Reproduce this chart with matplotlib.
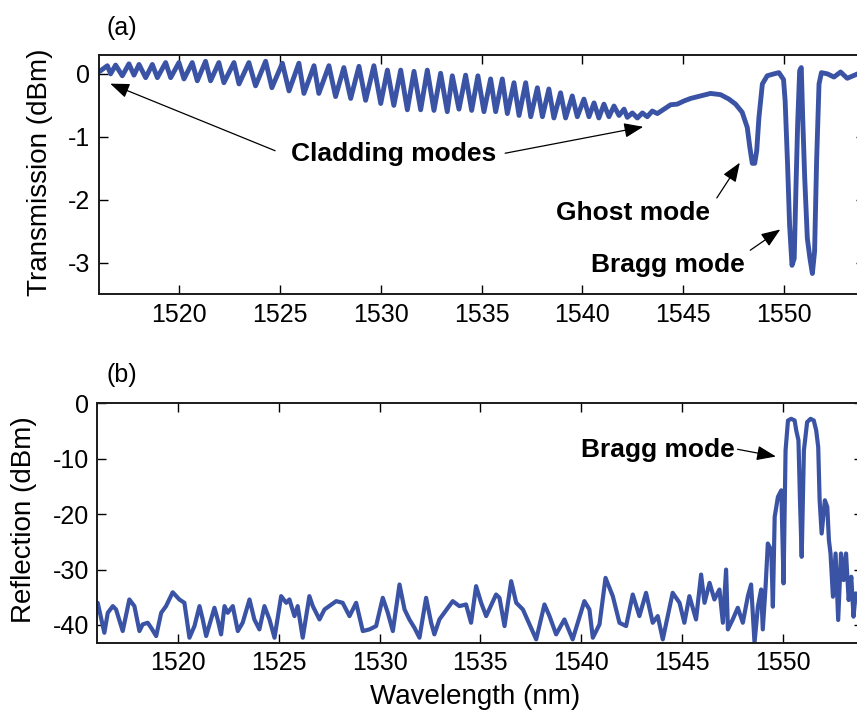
import matplotlib
matplotlib.use("Agg")
import matplotlib.pyplot as plt

plt.rcParams['font.family'] = ['Liberation Sans', 'DejaVu Sans']

# ---------------- data ----------------
trans_wl = [1516.06, 1516.44, 1516.60, 1516.85, 1517.18, 1517.51, 1517.76, 1518.01, 1518.34, 1518.67,
            1518.92, 1519.33, 1519.58, 1519.99, 1520.24, 1520.65, 1520.90, 1521.31, 1521.56, 1521.97,
            1522.22, 1522.72, 1522.97, 1523.46, 1523.79, 1524.29, 1524.60, 1525.12, 1525.45, 1525.94,
            1526.19, 1526.69, 1526.93, 1527.43, 1527.76, 1528.17, 1528.51, 1528.92, 1529.25, 1529.66,
            1530.00, 1530.33, 1530.65, 1530.99, 1531.32, 1531.65, 1531.98, 1532.31, 1532.64, 1532.97,
            1533.30, 1533.55, 1533.88, 1534.21, 1534.51, 1534.82, 1535.12, 1535.45, 1535.70, 1536.03,
            1536.28, 1536.61, 1536.86, 1537.19, 1537.44, 1537.77, 1538.02, 1538.34, 1538.59, 1538.92,
            1539.17, 1539.50, 1539.75, 1540.08, 1540.33, 1540.58, 1540.82, 1541.07, 1541.32, 1541.57,
            1541.82, 1542.07, 1542.23, 1542.48, 1542.73, 1542.98, 1543.22, 1543.47, 1543.72, 1544.05,
            1544.38, 1544.71, 1545.04, 1545.37, 1545.87, 1546.36, 1546.86, 1547.27, 1547.60, 1547.93,
            1548.18, 1548.31, 1548.43, 1548.55, 1548.65, 1548.76, 1548.93, 1549.17, 1549.50, 1549.75,
            1549.98, 1550.06, 1550.18, 1550.28, 1550.40, 1550.51, 1550.60, 1550.68, 1550.78, 1550.86,
            1550.93, 1551.03, 1551.16, 1551.29, 1551.41, 1551.52, 1551.62, 1551.74, 1551.86, 1552.16,
            1552.48, 1552.81, 1553.14, 1553.65]
trans_db = [0.04, 0.13, 0.00, 0.14, -0.03, 0.16, -0.02, 0.15, -0.06, 0.15,
            -0.06, 0.18, -0.06, 0.18, -0.08, 0.18, -0.11, 0.20, -0.11, 0.18,
            -0.14, 0.18, -0.16, 0.18, -0.19, 0.20, -0.22, 0.17, -0.27, 0.17,
            -0.31, 0.13, -0.31, 0.13, -0.36, 0.10, -0.39, 0.12, -0.42, 0.13,
            -0.47, 0.06, -0.50, 0.06, -0.57, 0.04, -0.57, 0.06, -0.58, 0.01,
            -0.60, -0.03, -0.56, -0.02, -0.58, -0.03, -0.60, -0.08, -0.60, -0.08,
            -0.63, -0.14, -0.66, -0.14, -0.68, -0.22, -0.68, -0.24, -0.70, -0.30,
            -0.70, -0.35, -0.68, -0.40, -0.68, -0.46, -0.70, -0.48, -0.68, -0.51,
            -0.66, -0.56, -0.69, -0.62, -0.70, -0.62, -0.68, -0.59, -0.63, -0.56,
            -0.49, -0.48, -0.43, -0.39, -0.35, -0.31, -0.33, -0.40, -0.48, -0.61,
            -0.85, -1.17, -1.42, -1.42, -1.22, -0.69, -0.16, -0.03, 0.00, 0.02,
            -0.09, -0.43, -1.44, -2.40, -3.04, -2.93, -1.76, -0.80, 0.05, 0.10,
            -0.69, -1.65, -2.61, -2.93, -3.17, -2.82, -1.39, -0.16, 0.02, 0.00,
            -0.05, 0.03, -0.07, 0.00]

refl_wl = [1516.02, 1516.35, 1516.52, 1516.77, 1516.93, 1517.26, 1517.59, 1517.84, 1518.09, 1518.25,
           1518.50, 1518.67, 1518.92, 1519.17, 1519.41, 1519.74, 1520.07, 1520.32, 1520.57, 1520.82,
           1521.07, 1521.23, 1521.40, 1521.81, 1521.97, 1522.14, 1522.31, 1522.47, 1522.72, 1522.97,
           1523.21, 1523.55, 1523.79, 1524.04, 1524.29, 1524.54, 1524.79, 1525.12, 1525.37, 1525.53,
           1525.78, 1525.94, 1526.19, 1526.52, 1526.69, 1527.02, 1527.27, 1527.85, 1528.17, 1528.51,
           1528.84, 1529.17, 1529.50, 1529.83, 1530.16, 1530.41, 1530.66, 1530.99, 1531.24, 1531.48,
           1531.73, 1531.98, 1532.31, 1532.56, 1532.72, 1532.97, 1533.63, 1533.96, 1534.29, 1534.54,
           1534.79, 1535.04, 1535.29, 1535.78, 1535.95, 1536.20, 1536.53, 1536.78, 1537.11, 1537.77,
           1538.18, 1538.43, 1538.76, 1539.17, 1539.58, 1540.16, 1540.41, 1540.58, 1540.91, 1541.21,
           1541.57, 1541.90, 1542.23, 1542.56, 1542.89, 1543.22, 1543.55, 1543.80, 1544.05, 1544.54,
           1544.88, 1545.12, 1545.37, 1545.70, 1545.95, 1546.12, 1546.37, 1546.61, 1546.86, 1547.03,
           1547.19, 1547.28, 1547.52, 1547.77, 1548.02, 1548.27, 1548.43, 1548.60, 1548.77, 1548.93,
           1549.01, 1549.15, 1549.26, 1549.43, 1549.51, 1549.60, 1549.76, 1549.93, 1550.04, 1550.14,
           1550.26, 1550.42, 1550.59, 1550.67, 1550.78, 1550.86, 1550.94, 1551.05, 1551.21, 1551.38,
           1551.54, 1551.66, 1551.76, 1551.83, 1551.93, 1552.09, 1552.21, 1552.29, 1552.37, 1552.49,
           1552.62, 1552.75, 1552.89, 1553.02, 1553.14, 1553.27, 1553.40, 1553.51, 1553.62]
refl_db = [-36.0, -41.4, -37.8, -36.6, -37.2, -41.1, -35.4, -36.6, -41.1, -39.9,
           -39.6, -40.5, -42.0, -37.8, -36.6, -34.1, -35.4, -36.0, -42.3, -40.2,
           -36.6, -39.0, -42.0, -36.9, -39.0, -41.7, -36.6, -37.8, -36.6, -41.1,
           -39.6, -35.4, -39.0, -40.8, -36.6, -39.0, -42.3, -34.8, -36.0, -35.4,
           -38.4, -36.6, -42.3, -34.8, -36.6, -39.0, -37.2, -35.7, -36.0, -38.4,
           -36.0, -41.1, -40.8, -40.2, -35.1, -37.8, -41.1, -32.7, -37.2, -39.0,
           -40.5, -42.3, -35.1, -39.6, -41.7, -39.0, -35.7, -36.6, -36.3, -39.6,
           -33.0, -36.0, -38.4, -34.5, -35.1, -40.2, -32.1, -36.0, -37.2, -42.6,
           -36.3, -38.4, -41.7, -39.0, -42.6, -35.7, -37.2, -42.3, -39.9, -31.5,
           -34.8, -39.6, -40.2, -34.5, -38.4, -34.2, -39.6, -38.4, -42.6, -34.2,
           -36.0, -39.6, -34.8, -39.0, -30.9, -36.0, -32.4, -35.4, -33.6, -39.6,
           -30.0, -40.8, -39.0, -36.9, -39.6, -34.8, -32.7, -43.2, -36.6, -33.6,
           -40.8, -33.0, -25.3, -26.5, -36.7, -20.5, -16.9, -15.7, -32.5, -8.5,
           -3.1, -2.8, -3.1, -4.9, -6.7, -18.1, -27.7, -8.5, -3.4, -2.8,
           -3.1, -4.9, -7.9, -17.5, -23.5, -17.5, -18.7, -24.7, -27.1, -34.9,
           -27.1, -39.1, -27.1, -31.9, -27.1, -35.5, -31.3, -38.5, -34.3]

xticks = [1520, 1525, 1530, 1535, 1540, 1545, 1550]
trans_yticks = [0, -1, -2, -3]
refl_yticks = [0, -10, -20, -30, -40]

# ---------------- figure ----------------
W, H = 857, 712
fig = plt.figure(figsize=(W / 100, H / 100), dpi=100)
line_color = '#3a53a4'

xlim = (1516, 1554)
px_per_nm = 20.16


def ax_rect(left_px, top_px, bottom_px):
    width_px = (xlim[1] - xlim[0]) * px_per_nm
    return [left_px / W, 1 - bottom_px / H, width_px / W, (bottom_px - top_px) / H]


ax1 = fig.add_axes(ax_rect(98.5, 55, 294.3))
ax2 = fig.add_axes(ax_rect(97.3, 403.3, 642.7))

for ax in (ax1, ax2):
    ax.set_xlim(*xlim)
    ax.set_xticks(xticks)
    ax.tick_params(direction='in', top=True, right=True, length=6.5, width=1.0,
                   labelsize=18, pad=6, colors='black')
    for s in ax.spines.values():
        s.set_linewidth(1.4)
        s.set_color('#1a1a1a')

ax1.plot(trans_wl, trans_db, color=line_color, lw=3.5,
         solid_joinstyle='round', solid_capstyle='round')
ax1.set_ylim(-3.5, 0.3)
ax1.set_yticks(trans_yticks)
ax1.set_yticklabels([str(v) for v in trans_yticks])

ax2.plot(refl_wl, refl_db, color=line_color, lw=3.0,
         solid_joinstyle='round', solid_capstyle='round')
ax2.set_ylim(-43.2, 0)
ax2.set_yticks(refl_yticks)
ax2.set_yticklabels([str(v) for v in refl_yticks])

# labels
fig.text(40 / W, 1 - 172 / H, 'Transmission (dBm)', rotation=90, ha='center', va='center', fontsize=20)
fig.text(24 / W, 1 - 520 / H, 'Reflection (dBm)', rotation=90, ha='center', va='center', fontsize=20)
fig.text(475 / W, 1 - 697 / H, 'Wavelength (nm)', ha='center', va='center', fontsize=20)
fig.text(122 / W, 1 - 28 / H, '(a)', ha='center', va='center', fontsize=18)
fig.text(122 / W, 1 - 375 / H, '(b)', ha='center', va='center', fontsize=18)

arrow_kw = dict(arrowstyle='-|>,head_length=0.65,head_width=0.25', color='black', lw=0.9,
                shrinkA=0, shrinkB=0, mutation_scale=18)
txt_kw = dict(fontsize=19, fontweight='bold', ha='center', va='center')

ax1.text(1530.66, -1.27, 'Cladding modes', **txt_kw)
ax1.annotate('', xy=(1516.58, -0.155), xytext=(1524.76, -1.22), arrowprops=arrow_kw)
ax1.annotate('', xy=(1543.02, -0.84), xytext=(1536.17, -1.26), arrowprops=arrow_kw)
ax1.text(1542.52, -2.21, 'Ghost mode', **txt_kw)
ax1.annotate('', xy=(1547.81, -1.41), xytext=(1546.67, -1.97), arrowprops=arrow_kw)
ax1.text(1544.26, -3.03, 'Bragg mode', **txt_kw)
ax1.annotate('', xy=(1549.82, -2.47), xytext=(1548.33, -2.80), arrowprops=arrow_kw)

ax2.text(1543.79, -8.5, 'Bragg mode', **txt_kw)
ax2.annotate('', xy=(1549.66, -9.6), xytext=(1547.76, -8.3), arrowprops=arrow_kw)

fig.savefig('out.png', dpi=100)
